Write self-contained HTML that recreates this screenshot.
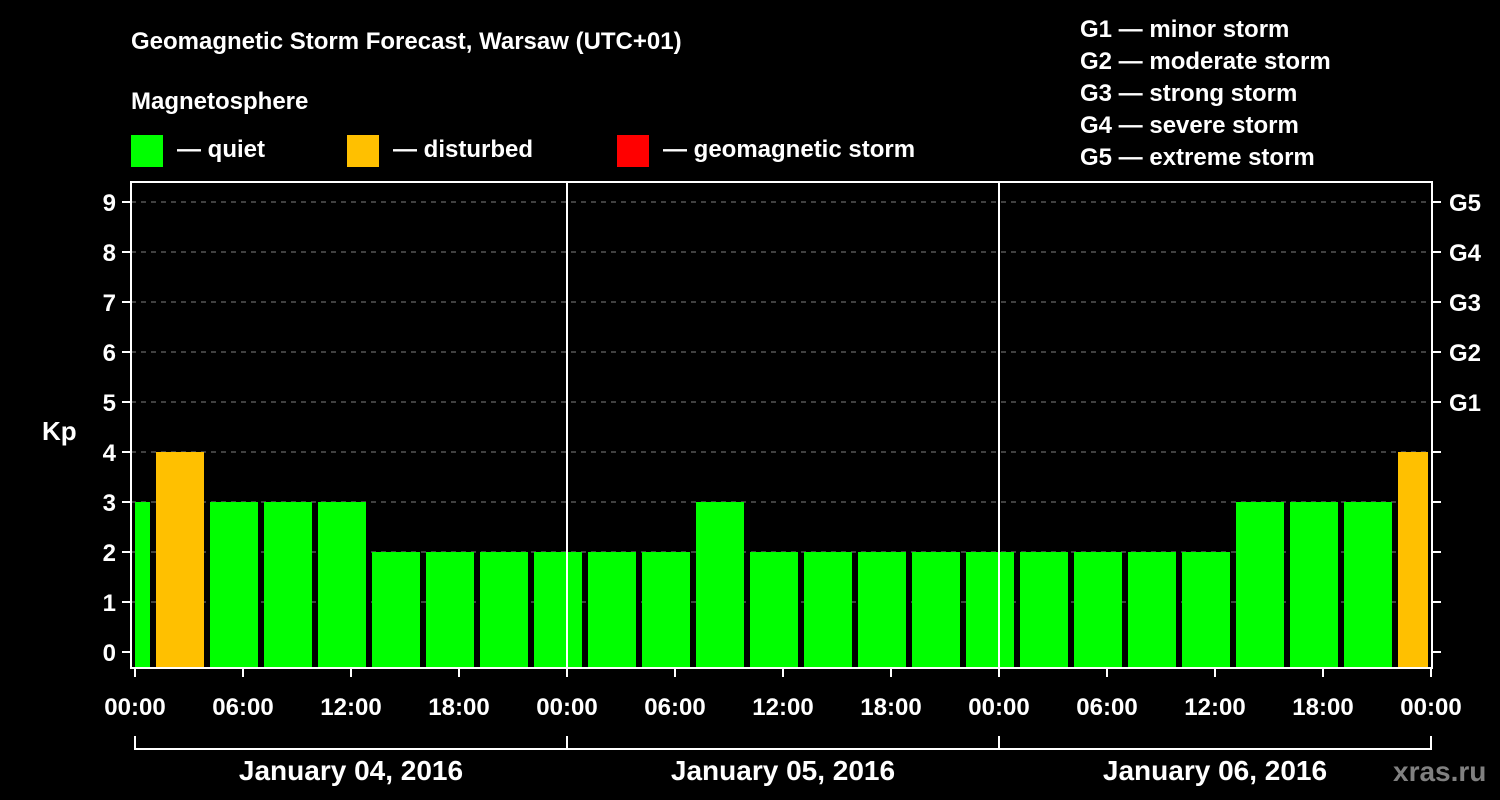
<!DOCTYPE html>
<html><head><meta charset="utf-8"><style>
body{margin:0;background:#000;}
svg{display:block;font-family:"Liberation Sans",sans-serif;font-weight:bold;}
</style></head><body>
<svg width="1500" height="800" viewBox="0 0 1500 800">
<rect width="1500" height="800" fill="#000"/>
<text x="131" y="49" fill="#fff" font-size="24">Geomagnetic Storm Forecast, Warsaw (UTC+01)</text>
<text x="131" y="109" fill="#fff" font-size="24">Magnetosphere</text>
<g>
<rect x="131" y="135" width="32" height="32" fill="#00ff00"/>
<text x="177" y="157" fill="#fff" font-size="24">— quiet</text>
<rect x="347" y="135" width="32" height="32" fill="#ffc000"/>
<text x="393" y="157" fill="#fff" font-size="24">— disturbed</text>
<rect x="617" y="135" width="32" height="32" fill="#ff0000"/>
<text x="663" y="157" fill="#fff" font-size="24">— geomagnetic storm</text>
</g>
<g fill="#fff" font-size="24">
<text x="1080" y="37">G1 — minor storm</text>
<text x="1080" y="69">G2 — moderate storm</text>
<text x="1080" y="101">G3 — strong storm</text>
<text x="1080" y="133">G4 — severe storm</text>
<text x="1080" y="165">G5 — extreme storm</text>
</g>
<text x="42" y="440" fill="#fff" font-size="26">Kp</text>
<g id="grid"></g>
<g id="bars"></g>
<g id="axes"></g>
<text x="1393" y="781" fill="#808080" font-size="28">xras.ru</text>
</svg>
<script>
const kpValues=[3,4,3,3,3,2,2,2,2, 2,2,3,2,2,2,2,2, 2,2,2,2,3,3,3,4];
const dayLabels=["January 04, 2016","January 05, 2016","January 06, 2016"];
const hourLabels=["00:00","06:00","12:00","18:00"];
const gLabels=["G1","G2","G3","G4","G5"];
const NS="http://www.w3.org/2000/svg";
const x0=135, pxPerHour=18, plotL=131, plotR=1432, plotT=182, plotB=668;
const yOf=v=>652-v*50;
const xOf=h=>x0+h*pxPerHour;
function mk(t,a,p){const e=document.createElementNS(NS,t);for(const k in a)e.setAttribute(k,a[k]);p.appendChild(e);return e;}
const grid=document.getElementById('grid'),bars=document.getElementById('bars'),axes=document.getElementById('axes');
for(let v=1;v<=9;v++){
 const l=mk('line',{x1:plotL,x2:plotR,y1:yOf(v),y2:yOf(v),stroke:'#808080','stroke-width':1,'stroke-dasharray':'5,5'},grid);
 
 
}
kpValues.forEach((v,i)=>{
 let s=(3*i-2), e=s+3;
 let xs=xOf(Math.max(s,0))+3, xe=xOf(Math.min(e,72))-3;
 if(s<0) xs=xOf(0);
 const c=v>=5?'#ff0000':(v>=4?'#ffc000':'#00ff00');
 const r=mk('rect',{x:xs,y:yOf(v),width:xe-xs,height:plotB-yOf(v),fill:c},bars);
 
 
});
const f=mk('rect',{x:plotL,y:plotT,width:plotR-plotL,height:plotB-plotT,fill:'none',stroke:'#fff','stroke-width':2},axes);


for(let d=1;d<3;d++){mk('line',{x1:xOf(24*d),x2:xOf(24*d),y1:plotT,y2:plotB,stroke:'#fff','stroke-width':2},axes);}
for(let v=0;v<=9;v++){
 mk('line',{x1:122,x2:plotL,y1:yOf(v),y2:yOf(v),stroke:'#fff','stroke-width':2},axes);
 mk('line',{x1:plotR,x2:1441,y1:yOf(v),y2:yOf(v),stroke:'#fff','stroke-width':2},axes);
 const t=mk('text',{x:116,y:yOf(v)+9,fill:'#fff','font-size':24,'text-anchor':'end'},axes);t.textContent=v;
 
 
 if(v>=5){const g=mk('text',{x:1449,y:yOf(v)+9,fill:'#fff','font-size':24},axes);g.textContent=gLabels[v-5];
 
 }
}
for(let h=0;h<=72;h+=6){
 mk('line',{x1:xOf(h),x2:xOf(h),y1:plotB,y2:677,stroke:'#fff','stroke-width':2},axes);
 const t=mk('text',{x:xOf(h),y:715,fill:'#fff','font-size':24,'text-anchor':'middle'},axes);
 t.textContent=hourLabels[(h/6)%4];
 
 
}
mk('line',{x1:xOf(0),x2:xOf(72),y1:749,y2:749,stroke:'#fff','stroke-width':2},axes);
for(let d=0;d<=3;d++) mk('line',{x1:xOf(24*d),x2:xOf(24*d),y1:736,y2:750,stroke:'#fff','stroke-width':2},axes);
dayLabels.forEach((s,d)=>{
 const t=mk('text',{x:xOf(24*d+12),y:780,fill:'#fff','font-size':28,'text-anchor':'middle'},axes);t.textContent=s;
 
 
});
</script>
</body></html>
